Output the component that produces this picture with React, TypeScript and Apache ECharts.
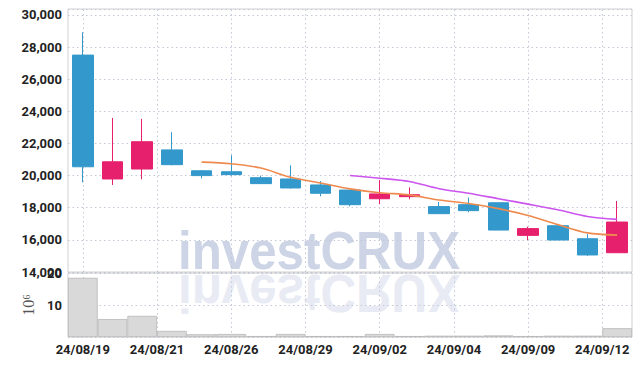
import React, { useEffect, useRef } from "react";
import * as echarts from "echarts";

const dates = ["24/08/19","24/08/20","24/08/21","24/08/22","24/08/23","24/08/26","24/08/27","24/08/28","24/08/29","24/08/30","24/09/02","24/09/03","24/09/04","24/09/05","24/09/06","24/09/09","24/09/10","24/09/11","24/09/12"];
const opens = [27500,19790,20410,21600,20300,20240,19870,19790,19420,19100,18560,18690,18070,18190,18310,16280,16880,16070,15200];
const closes = [20550,20860,22110,20680,20000,20060,19500,19230,18900,18190,18860,18810,17630,17820,16610,16700,15990,15060,17110];
const lows = [19580,19420,19770,20640,19830,20000,19480,19190,18710,18090,18230,18530,17630,17720,16610,15990,15990,15010,15200];
const highs = [28920,23590,23530,22700,20350,21270,20000,20640,19660,19110,19730,19270,18360,18630,18320,16820,16890,16350,18420];
const volumes = [18.5,5.6,6.6,1.9,0.85,0.95,0.3,0.95,0.3,0.3,0.95,0.3,0.4,0.4,0.5,0.3,0.4,0.4,2.75];
const tickLabels = ["24/08/19","24/08/21","24/08/26","24/08/29","24/09/02","24/09/04","24/09/09","24/09/12"];

function movingAverage(n: number) {
  return closes.map((_, i) => {
    if (i < n - 1) return "-";
    let s = 0;
    for (let k = i - n + 1; k <= i; k++) s += closes[k];
    return Math.round(s / n);
  });
}

const FONT = "Roboto, 'Liberation Sans', sans-serif";

export default function App() {
  const ref = useRef<HTMLDivElement>(null);
  useEffect(() => {
    if (!ref.current) return;
    const chart = echarts.init(ref.current, undefined, { renderer: "svg" });
    // half-step category axis: index j <-> candle position (j - 1) / 2
    const halfCats: string[] = [];
    const tickIdx: number[] = [];
    for (let j = 0; j <= dates.length * 2; j++) {
      const isTick = j >= 1 && (j - 1) % 5 === 0 && (j - 1) / 5 < tickLabels.length;
      halfCats.push(isTick ? tickLabels[(j - 1) / 5] : "");
      if (isTick) tickIdx.push(j);
    }
    const labelInterval = (idx: number) => tickIdx.indexOf(idx) >= 0;
    const gridLineStyle = { color: "#c4c8d6", type: [1.5, 3] as any, width: 1 };
    const dotted = { show: true, lineStyle: gridLineStyle };
    const candleData = dates.map((_, i) => [opens[i], closes[i], lows[i], highs[i]]);
    const vLines = (xi: number, yi: number) => ({
      type: "line", xAxisIndex: xi, yAxisIndex: yi, z: 1, silent: true,
      data: halfCats.map(() => "-"),
      markLine: {
        z: 1, silent: true, symbol: ["none", "none"], label: { show: false }, animation: false,
        lineStyle: gridLineStyle, emphasis: { disabled: true },
        data: tickIdx.map((j) => ({ xAxis: j })),
      },
    });

    chart.setOption({
      animation: false,
      backgroundColor: "#ffffff",
      grid: [
        { left: 68, right: 10, top: 9, height: 263, show: true, borderColor: "#d0d0d0", borderWidth: 1, backgroundColor: "transparent" },
        { left: 68, right: 10, top: 273, height: 64, show: true, borderColor: "#d0d0d0", borderWidth: 1, backgroundColor: "transparent" },
      ],
      graphic: [
        {
          type: "text", x: 319, y: 293, scaleX: 0.93, scaleY: -1, z: -1, silent: true,
          style: { text: "investCRUX", font: "bold 53px 'Liberation Sans', Arial, sans-serif", fill: "#e8ebf3", align: "center", verticalAlign: "middle" },
        },
        {
          type: "text", x: 319, y: 251, scaleX: 0.93, z: -1, silent: true,
          style: { text: "investCRUX", font: "bold 53px 'Liberation Sans', Arial, sans-serif", fill: "#cdd4e6", align: "center", verticalAlign: "middle" },
        },
      ],
      xAxis: [
        { type: "category", data: dates, gridIndex: 0, boundaryGap: true, show: false, position: "bottom" },
        { type: "category", data: dates, gridIndex: 1, boundaryGap: true, show: false, position: "top" },
        {
          type: "category", data: halfCats, gridIndex: 0, boundaryGap: false, position: "top",
          axisLine: { show: false }, axisTick: { show: false }, axisLabel: { show: false }, splitLine: { show: false },
        },
        {
          type: "category", data: halfCats, gridIndex: 1, boundaryGap: false, position: "bottom",
          axisLine: { show: false }, axisTick: { show: false }, splitLine: { show: false },
          axisLabel: { show: true, interval: labelInterval, color: "#222", fontFamily: FONT, fontWeight: "bold", fontSize: 13, margin: 6 },
        },
      ],
      yAxis: [
        {
          type: "value", gridIndex: 0, min: 14000, max: 30370, interval: 2000,
          axisLine: { show: false }, axisTick: { show: false },
          axisLabel: {
            color: "#222", fontFamily: FONT, fontWeight: "bold", fontSize: 13, margin: 6,
            formatter: (v: number) => (v % 2000 === 0 ? v.toLocaleString("en-US") : ""),
          },
          splitLine: dotted,
        },
        {
          type: "value", gridIndex: 1, min: 0, max: 20, interval: 10,
          axisLine: { show: false }, axisTick: { show: false },
          axisLabel: {
            color: "#222", fontFamily: FONT, fontWeight: "bold", fontSize: 13, margin: 6,
            formatter: (v: number) => (v === 0 ? "" : String(v)),
          },
          splitLine: dotted,
          name: "10⁶", nameLocation: "middle", nameRotate: 90, nameGap: 26,
          nameTextStyle: { color: "#555", fontFamily: "'Liberation Serif', 'DejaVu Serif', serif", fontSize: 16 },
        },
      ],
      series: [
        vLines(2, 0),
        vLines(3, 1),
        {
          type: "candlestick", xAxisIndex: 0, yAxisIndex: 0, data: candleData, barWidth: 21, z: 3,
          itemStyle: { color: "#e6206c", color0: "#3399cc", borderColor: "#e6206c", borderColor0: "#3399cc", borderWidth: 1 },
        },
        {
          type: "line", xAxisIndex: 0, yAxisIndex: 0, data: movingAverage(5), symbol: "none", smooth: 0.3, z: 4,
          lineStyle: { color: "#ee8a4e", width: 1.6 },
        },
        {
          type: "line", xAxisIndex: 0, yAxisIndex: 0, data: movingAverage(10), symbol: "none", smooth: 0.3, z: 4,
          lineStyle: { color: "#cc55ee", width: 1.6 },
        },
        {
          type: "bar", xAxisIndex: 1, yAxisIndex: 1, data: volumes, barWidth: "100%", z: 3,
          itemStyle: { color: "#d9d9d9", borderColor: "#b8b8b8", borderWidth: 0.8 },
        },
      ],
    });
    return () => chart.dispose();
  }, []);
  return <div ref={ref} style={{ position: "fixed", left: 0, top: 0, width: 642, height: 366 }} />;
}
